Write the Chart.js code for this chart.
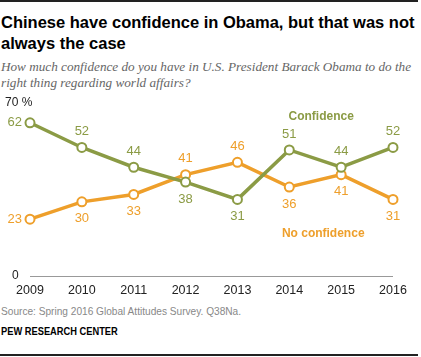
<!DOCTYPE html>
<html><head><meta charset="utf-8">
<script src="https://cdn.jsdelivr.net/npm/chart.js@4/dist/chart.umd.min.js"></script>
<style>
html,body{margin:0;padding:0;background:#fff;}
#wrap{position:relative;width:421px;height:357px;overflow:hidden;}
.abs{position:absolute;white-space:nowrap;}
#topline{left:0;top:0;width:418px;height:2px;background:#222;}
#botline{left:0;top:354px;width:418px;height:2px;background:#222;}
#title{left:1px;top:12px;font:bold 16.5px "Liberation Sans",Arial,sans-serif;line-height:21px;color:#000;white-space:normal;width:418px;}
#sub{left:1px;top:59px;font:italic 13.2px "Liberation Serif",serif;line-height:16px;color:#666;white-space:normal;width:420px;}
#src{left:1px;top:305px;font:11.5px "Liberation Sans",Arial,sans-serif;color:#888;transform:scaleX(0.88);transform-origin:0 0;}
#pew{left:1px;top:326px;font:bold 10px "Liberation Sans",Arial,sans-serif;color:#000;transform:scaleX(0.93);transform-origin:0 0;}
canvas{position:absolute;left:0;top:0;}
</style></head>
<body><div id="wrap">
<div id="topline" class="abs"></div>
<div id="title" class="abs">Chinese have confidence in Obama, but that was not always the case</div>
<div id="sub" class="abs">How much confidence do you have in U.S. President Barack Obama to do the right thing regarding world affairs?</div>
<canvas id="c" width="421" height="300"></canvas>
<div id="src" class="abs">Source: Spring 2016 Global Attitudes Survey. Q38Na.</div>
<div id="pew" class="abs">PEW RESEARCH CENTER</div>
<div id="botline" class="abs"></div>
</div>
<script>
const years = ["2009","2010","2011","2012","2013","2014","2015","2016"];
const confidence = [62,52,44,38,31,51,44,52];
const noConfidence = [23,30,33,41,46,36,41,31];
// label placement: 'a' above, 'b' below, 'l' left
const confPos = ['l','a','a','b','b','a','a','a'];
const noConfPos = ['l','b','b','a','a','b','b','b'];
const yTickLabels = {0:"0",70:"70 %"};
const GREEN = "#8b9b45";
const ORANGE = "#ee9f2b";

const labelPlugin = {
  id:'labels',
  afterDatasetsDraw(chart){
    const ctx = chart.ctx;
    const xs = chart.scales.x, ys = chart.scales.y;
    ctx.save();
    ctx.font = '13px "Liberation Sans", Arial, sans-serif';
    ctx.textBaseline = 'middle';
    const sets = [[confidence, confPos, GREEN],[noConfidence, noConfPos, ORANGE]];
    sets.forEach(([vals,pos,col])=>{
      ctx.fillStyle = col;
      vals.forEach((v,i)=>{
        const x = xs.getPixelForValue(i), y = ys.getPixelForValue(v);
        if(pos[i]==='l'){ctx.textAlign='right';ctx.fillText(String(v),x-8,y);}
        else if(pos[i]==='a'){ctx.textAlign='center';ctx.fillText(String(v),x,y-16);}
        else {ctx.textAlign='center';ctx.fillText(String(v),x,y+17);}
      });
    });
    ctx.fillStyle = '#222';
    ctx.font = '12px "Liberation Sans", Arial, sans-serif';
    ctx.textAlign='left';
    Object.keys(yTickLabels).forEach(k=>{
      const y = ys.getPixelForValue(Number(k));
      const t = yTickLabels[k];
      ctx.fillText(t, t==="0"?12:5, y);
    });
    ctx.font = 'bold 12px "Liberation Sans", Arial, sans-serif';
    ctx.textAlign='center';
    const lx = (xs.getPixelForValue(5)+xs.getPixelForValue(6))/2 + 6;
    ctx.fillStyle = GREEN;
    ctx.fillText("Confidence", lx, ys.getPixelForValue(64.5));
    ctx.fillStyle = ORANGE;
    ctx.fillText("No confidence", lx+2, ys.getPixelForValue(17));
    ctx.restore();
  }
};

new Chart(document.getElementById('c'),{
  type:'line',
  data:{labels:years,datasets:[
    {label:'Confidence',data:confidence,borderColor:GREEN,borderWidth:3.5,pointRadius:4.5,pointBorderWidth:2,pointBackgroundColor:'#fff',pointBorderColor:GREEN,tension:0},
    {label:'No confidence',data:noConfidence,borderColor:ORANGE,borderWidth:3.5,pointRadius:4.5,pointBorderWidth:2,pointBackgroundColor:'#fff',pointBorderColor:ORANGE,tension:0}
  ]},
  options:{
    responsive:false,animation:false,
    layout:{padding:{left:30,right:28,top:103,bottom:0}},
    plugins:{legend:{display:false},tooltip:{enabled:false}},
    scales:{
      x:{offset:false,grid:{display:false,drawTicks:false},border:{display:false},
        ticks:{color:'#222',font:{size:12.5,family:'"Liberation Sans", Arial, sans-serif'},padding:7,maxRotation:0,autoSkip:false},
        afterFit(s){s.height=24;}},
      y:{min:0,max:70,display:true,
        ticks:{display:false,stepSize:70},
        border:{display:false},
        grid:{drawTicks:false,color:(c)=>c.tick.value===0?'#999':'rgba(0,0,0,0)',lineWidth:1},
        afterFit(s){s.width=0;}}
    }
  },
  plugins:[labelPlugin]
});
</script>
</body></html>
